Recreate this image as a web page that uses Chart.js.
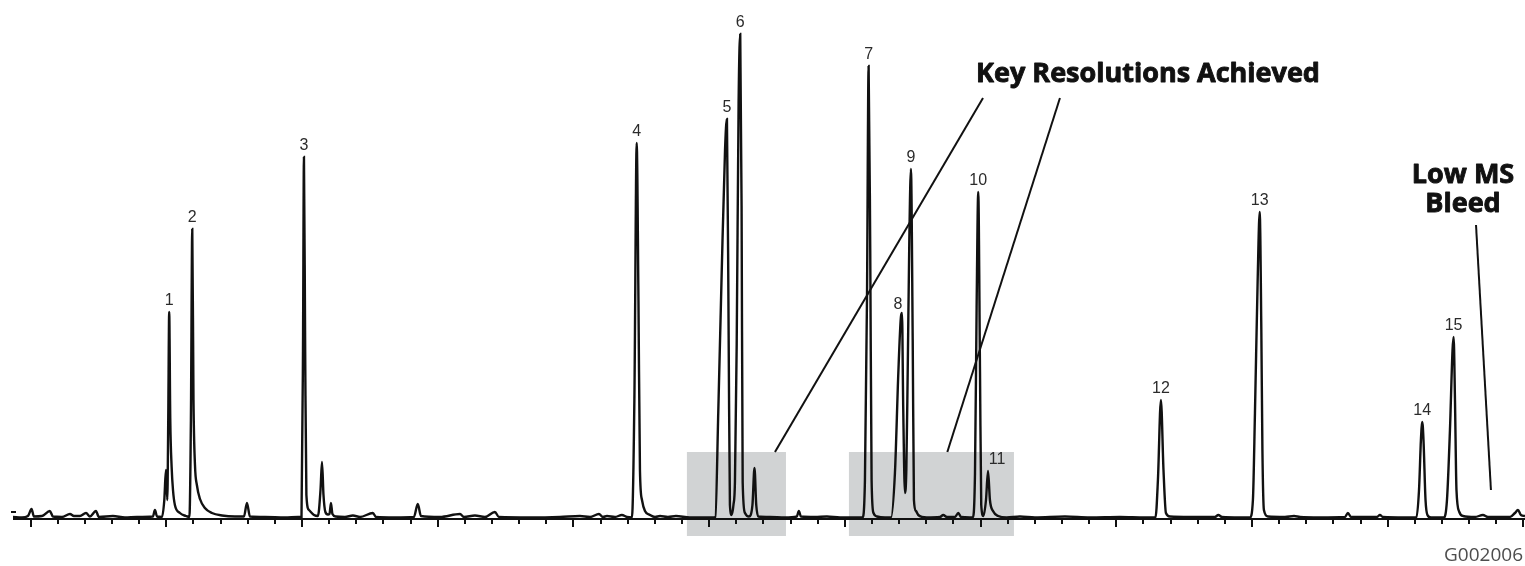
<!DOCTYPE html>
<html>
<head>
<meta charset="utf-8">
<title>Chromatogram</title>
<script src="https://cdn.jsdelivr.net/npm/chart.js@4.4.1/dist/chart.umd.min.js"></script>
<style>
    html, body { margin: 0; padding: 0; background: #ffffff; }
    #wrap { position: relative; width: 1525px; height: 566px; }
</style>
</head>
<body>
<div id="wrap"><canvas id="chromChart"></canvas></div>
<script>
// Retention time (min) and detector response (% of full scale)
const traceTime = [
    1.870, 1.936, 1.980, 2.007, 2.024, 2.083, 2.142, 2.164, 2.231, 2.290, 2.319, 2.363, 2.408, 2.437, 2.481, 2.503,
    2.606, 2.695, 2.783, 2.901, 2.916, 2.931, 2.968,
    2.985, 2.997, 3.007, 3.014, 3.021, 3.029, 3.039, 3.049, 3.063, 3.100, 3.144, 3.170,
    3.181, 3.191, 3.200, 3.211, 3.225, 3.248, 3.284, 3.336, 3.410, 3.506, 3.572, 3.594, 3.616, 3.727, 3.874, 3.970,
    3.996, 4.007, 4.014, 4.023, 4.032, 4.051, 4.088, 4.117, 4.136, 4.147, 4.158, 4.172, 4.191, 4.202, 4.213, 4.224,
    4.250, 4.316, 4.375, 4.427, 4.522, 4.545, 4.685, 4.824, 4.853, 4.876, 5.016, 5.164, 5.193, 5.274, 5.348, 5.421,
    5.451, 5.679, 5.901, 6.048, 6.122, 6.188, 6.217, 6.247, 6.306, 6.357, 6.394,
    6.431, 6.449, 6.466, 6.479, 6.490, 6.505, 6.527, 6.564, 6.601, 6.638, 6.696, 6.755, 6.858, 7.028,
    7.046, 7.067, 7.092, 7.117, 7.131, 7.144, 7.153, 7.166, 7.179, 7.190, 7.203, 7.217, 7.229, 7.239, 7.247, 7.264,
    7.293, 7.319, 7.334, 7.347, 7.362, 7.447, 7.557, 7.646, 7.661, 7.676, 7.779, 7.868, 7.964, 8.075,
    8.130, 8.148, 8.163, 8.175, 8.187, 8.197, 8.211, 8.237, 8.296,
    8.340, 8.369, 8.394, 8.413, 8.421, 8.430, 8.443, 8.453, 8.463, 8.475, 8.487, 8.500, 8.509, 8.524, 8.541, 8.603,
    8.701, 8.725, 8.752, 8.811, 8.836, 8.856, 8.922,
    8.942, 8.959, 8.971, 8.983, 8.996, 9.005, 9.021, 9.040, 9.055, 9.069, 9.094, 9.130, 9.192, 9.290, 9.401, 9.622,
    9.806, 10.027, 10.211,
    10.289, 10.307, 10.329, 10.348, 10.366, 10.396, 10.543, 10.727, 10.752, 10.779, 10.912,
    10.985, 11.007, 11.022, 11.042, 11.057, 11.069, 11.077, 11.088, 11.118, 11.243, 11.310, 11.354, 11.501, 11.685,
    11.707, 11.730, 11.921, 11.943, 11.965, 12.127,
    12.212, 12.231, 12.245, 12.255, 12.264, 12.279, 12.293, 12.319, 12.385,
    12.415, 12.437, 12.459, 12.478, 12.486, 12.496, 12.507, 12.528, 12.555, 12.643, 12.702, 12.739, 12.901, 12.938,
    12.960, 12.982, 13.012
];
const traceSignal = [
    0.2, 0.1, 0.4, 1.8, 0.3, 0.4, 1.4, 0.3, 0.2, 0.8, 0.4, 0.4, 1.0, 0.3, 1.4, 0.2,
    0.4, 0.1, 0.2, 0.3, 1.6, 0.3, 0.2,
    3.6, 9.6, 3.6, 19.6, 41.2, 19.6, 10.2, 5.6, 2.6, 1.0, 0.4, 0.2,
    19.6, 57.8, 23.6, 10.6, 6.6, 3.8, 2.0, 1.0, 0.5, 0.3, 0.3, 3.0, 0.3, 0.2, 0.1, 0.2,
    0.2, 33.6, 72.2, 33.6, 4.6, 1.6, 0.6, 0.4, 5.6, 11.2, 4.6, 1.2, 0.7, 0.8, 3.0, 0.8,
    0.3, 0.2, 0.5, 0.2, 1.0, 0.2, 0.1, 0.2, 2.8, 0.4, 0.2, 0.8, 0.2, 0.5, 0.2, 1.2,
    0.2, 0.1, 0.2, 0.4, 0.2, 0.8, 0.2, 0.4, 0.2, 0.6, 0.2,
    0.1, 23.6, 75.0, 43.6, 9.6, 3.6, 1.4, 0.6, 0.2, 0.4, 0.2, 0.4, 0.1, 0.1,
    0.2, 21.0, 48.6, 73.6, 79.8, 34.8, 2.6, 0.6, 2.6, 7.2, 34.8, 83.0, 96.8, 62.4, 7.2, 1.0,
    0.3, 2.6, 10.0, 2.6, 0.3, 0.2, 0.1, 0.3, 1.4, 0.3, 0.2, 0.3, 0.1, 0.1,
    0.1, 7.6, 43.6, 90.4, 53.6, 7.6, 1.0, 0.3, 0.1,
    0.1, 9.0, 29.0, 40.2, 41.0, 22.2, 5.0, 9.6, 29.0, 55.6, 69.8, 35.6, 3.6, 1.4, 0.6, 0.1,
    0.2, 0.6, 0.2, 0.2, 1.0, 0.2, 0.1,
    0.1, 9.0, 42.2, 65.2, 29.0, 2.6, 0.4, 3.6, 9.4, 3.6, 1.3, 0.4, 0.1, 0.3, 0.1, 0.3,
    0.1, 0.2, 0.1,
    0.1, 7.6, 23.6, 9.6, 1.0, 0.3, 0.2, 0.2, 0.6, 0.2, 0.1,
    0.1, 3.6, 21.0, 47.6, 61.2, 37.6, 13.6, 1.6, 0.3, 0.2, 0.4, 0.2, 0.1, 0.2,
    1.0, 0.2, 0.2, 0.6, 0.2, 0.1,
    0.1, 5.6, 15.6, 19.2, 15.6, 3.6, 0.6, 0.1, 0.1,
    0.1, 3.6, 17.6, 33.6, 36.2, 23.6, 5.6, 1.2, 0.4, 0.2, 0.6, 0.2, 0.2, 1.0,
    1.6, 0.6, 0.4
];

// Numbered peaks (apex time and height)
const peakLabels = ['1', '2', '3', '4', '5', '6', '7', '8', '9', '10', '11', '12', '13', '14', '15'];
const peakTimes = [3.021, 3.191, 4.014, 6.466, 7.131, 7.229, 8.175, 8.421, 8.487, 8.983, 9.055, 10.329, 11.057, 12.255, 12.486];
const peakHeights = [41.2, 57.8, 72.2, 75.0, 79.8, 96.8, 90.4, 41.0, 69.8, 65.2, 9.4, 23.6, 61.2, 19.2, 36.2];

// Axis ticks (no labels on this axis)
const majorTicks = [2, 3, 4, 5, 6, 7, 8, 9, 10, 11, 12, 13];
const minorPerMajor = 5;

// Highlighted windows: [start, end] in minutes
const highlightWindows = [[6.836, 7.566], [8.030, 9.246]];
const highlightTop = 13.2;
const highlightBottom = -3.6;

// Callout leader lines: [tFrom, yFrom, tTo, yTo]
const keyResolutionLines = [[9.018, 84, 7.485, 13.2], [9.585, 84, 8.755, 13.2]];
const bleedLine = [12.651, 58.6, 12.761, 5.6];

const INK = '#111111';
const LABEL_INK = '#2b2b2b';

function boldText(ctx, text, x, y) {
    ctx.fillText(text, x, y);
    ctx.strokeText(text, x, y);
}

const chromDecor = {
    id: 'chromDecor',
    beforeDatasetsDraw(chart) {
        const { ctx, scales: { x, y } } = chart;
        ctx.save();

        // grey windows behind the trace
        ctx.fillStyle = '#d1d3d4';
        highlightWindows.forEach(w => {
            const x0 = x.getPixelForValue(w[0]);
            const x1 = x.getPixelForValue(w[1]);
            const y0 = y.getPixelForValue(highlightTop);
            const y1 = y.getPixelForValue(highlightBottom);
            ctx.fillRect(x0, y0, x1 - x0, y1 - y0);
        });

        // baseline and tick marks
        const base = y.getPixelForValue(0) + 1;
        ctx.strokeStyle = INK;
        ctx.lineWidth = 2;
        ctx.beginPath();
        ctx.moveTo(chart.chartArea.left, base);
        ctx.lineTo(chart.chartArea.right, base);
        ctx.stroke();

        ctx.beginPath();
        ctx.moveTo(11, base - 7);
        ctx.lineTo(16, base - 7);
        ctx.stroke();

        majorTicks.forEach((m, i) => {
            for (let k = 0; k < minorPerMajor; k++) {
                if (k > 0 && i === majorTicks.length - 1) break;
                const v = m + k / minorPerMajor;
                const px = Math.round(x.getPixelForValue(v));
                const len = k === 0 ? 8 : 5;
                ctx.beginPath();
                ctx.moveTo(px, base);
                ctx.lineTo(px, base + len);
                ctx.stroke();
            }
        });
        ctx.restore();
    },
    afterDatasetsDraw(chart) {
        const { ctx, scales: { x, y } } = chart;
        ctx.save();

        // peak numbers
        ctx.fillStyle = LABEL_INK;
        ctx.font = '16px "Liberation Sans", Arial, sans-serif';
        ctx.textAlign = 'center';
        ctx.textBaseline = 'alphabetic';
        const nudge = { '8': -4, '11': 9 };
        peakLabels.forEach((lab, i) => {
            const px = x.getPixelForValue(peakTimes[i]) + (nudge[lab] || 0);
            const py = y.getPixelForValue(peakHeights[i]) - (lab === '8' ? 10 : 13);
            ctx.fillText(lab, px, py + 6);
        });

        // leader lines
        ctx.strokeStyle = INK;
        ctx.lineWidth = 2;
        keyResolutionLines.concat([bleedLine]).forEach(l => {
            ctx.beginPath();
            ctx.moveTo(x.getPixelForValue(l[0]), y.getPixelForValue(l[1]));
            ctx.lineTo(x.getPixelForValue(l[2]), y.getPixelForValue(l[3]));
            ctx.stroke();
        });

        // callout text
        ctx.fillStyle = INK;
        ctx.lineWidth = 0.9;
        ctx.lineJoin = 'round';
        ctx.font = 'bold 27px "Open Sans", sans-serif';
        boldText(ctx, 'Key Resolutions Achieved', 1148, 82);
        boldText(ctx, 'Low MS', 1463, 183);
        boldText(ctx, 'Bleed', 1463, 212);

        ctx.fillStyle = '#4d4d4d';
        ctx.font = '19px "Open Sans", sans-serif';
        ctx.textAlign = 'right';
        ctx.fillText('G002006', 1523, 561);
        ctx.restore();
    }
};

const tracePoints = traceTime.map((t, i) => ({ x: t, y: traceSignal[i] }));

new Chart(document.getElementById('chromChart'), {
    type: 'line',
    data: {
        datasets: [{
            data: tracePoints,
            borderColor: INK,
            borderWidth: 2.4,
            pointRadius: 0,
            fill: false,
            cubicInterpolationMode: 'monotone',
            clip: false
        }]
    },
    options: {
        responsive: true,
        maintainAspectRatio: false,
        animation: false,
        layout: { padding: { left: 13, right: 0, top: 18, bottom: 48 } },
        plugins: {
            legend: { display: false },
            tooltip: { enabled: false }
        },
        scales: {
            x: { type: 'linear', min: 1.87, max: 13.012, display: false },
            y: { min: 0, max: 100, display: false }
        }
    },
    plugins: [chromDecor]
});
</script>
</body>
</html>
